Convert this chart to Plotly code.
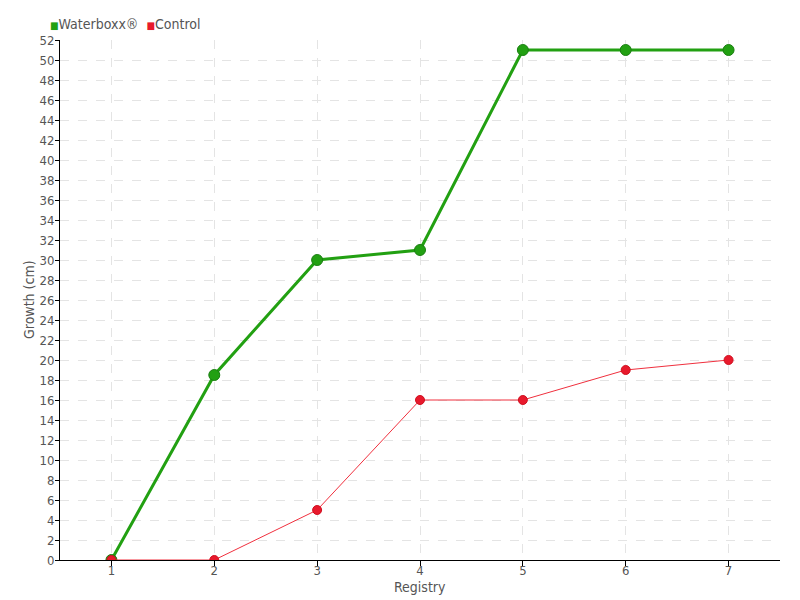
import plotly.graph_objects as go

registry = [1, 2, 3, 4, 5, 6, 7]
waterboxx = [0, 18.5, 30, 31, 51, 51, 51]
control = [0, 0, 5, 16, 16, 19, 20]
y_ticks = list(range(0, 53, 2))
series_names = ["Waterboxx®", "Control"]
x_title = "Registry"
y_title = "Growth (cm)"
GREEN = "#22a012"
RED = "#e8192c"

FONT = "DejaVu Sans Condensed, DejaVu Sans, sans-serif"
fig = go.Figure()
fig.add_trace(go.Scatter(
    x=registry, y=waterboxx, name=series_names[0], mode="lines+markers",
    line=dict(color=GREEN, width=3),
    marker=dict(color=GREEN, size=11, symbol="circle", line=dict(color="#1b7f12", width=1)),
    showlegend=False,
))
fig.add_trace(go.Scatter(
    x=registry, y=control, name=series_names[1], mode="lines+markers",
    line=dict(color="#f0303e", width=1),
    marker=dict(color=RED, size=9, line=dict(color="#d01020", width=1)),
    showlegend=False,
))

legend_text = (f"<span style='color:{GREEN};font-size:10px'>■</span>{series_names[0]}  "
               f"<span style='color:{RED};font-size:10px'>■</span>{series_names[1]}")
fig.add_annotation(text=legend_text, xref="paper", yref="paper", x=-0.016, y=1.0,
                   xanchor="left", yanchor="bottom", yshift=6, showarrow=False,
                   font=dict(size=14, color="#555555", family=FONT))
fig.add_annotation(text=x_title, xref="paper", yref="paper", x=0.5, y=0, yshift=-27,
                   xanchor="center", yanchor="middle", showarrow=False,
                   font=dict(size=14, color="#555555", family=FONT))
fig.add_annotation(text=y_title, xref="paper", yref="paper", x=0, xshift=-31, y=0.5,
                   xanchor="center", yanchor="middle", textangle=-90, showarrow=False,
                   font=dict(size=14, color="#555555", family=FONT))

fig.update_layout(
    width=800, height=600,
    margin=dict(l=60, r=20, t=40, b=40, autoexpand=False),
    plot_bgcolor="white", paper_bgcolor="white",
    font=dict(family=FONT, size=13, color="#555555"),
    showlegend=False,
    xaxis=dict(
        range=[0.5, 7.5], tickmode="array", tickvals=registry, ticktext=[str(v) for v in registry],
        showline=True, linecolor="black", linewidth=1, ticks="outside", ticklen=5, tickcolor="black",
        ticklabelstandoff=-7,
        showgrid=True, gridcolor="#e4e4e4", griddash="dash", gridwidth=1,
        zeroline=False, automargin=False,
    ),
    yaxis=dict(
        range=[0, 52], tickmode="array", tickvals=y_ticks,
        showline=True, linecolor="black", linewidth=1, ticks="outside", ticklen=4, tickcolor="black",
        ticklabelstandoff=-2,
        showgrid=True, gridcolor="#e4e4e4", griddash="dash", gridwidth=1,
        zeroline=False, automargin=False,
    ),
)
fig.write_html("out.html", config={"displayModeBar": False},
               post_script="document.body.style.margin='0';document.body.style.padding='0';")
